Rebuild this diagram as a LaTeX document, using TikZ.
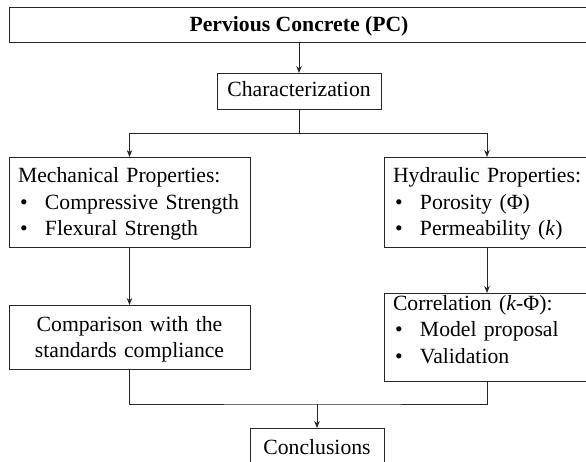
\documentclass[tikz,border=0pt]{standalone}
\usepackage{fontspec}
\setmainfont{Liberation Serif}
\usetikzlibrary{arrows.meta}
\begin{document}
\begin{tikzpicture}[x=1pt,y=-1pt,
  box/.style={draw=black!85, line width=0.9pt, rectangle, inner sep=0pt, outer sep=0pt,
    font=\fontsize{21.7}{26.5}\selectfont},
  lbox/.style={box, align=left, inner xsep=9pt, text width=#1},
  conn/.style={draw=black!85, line width=0.9pt},
  arr/.style={conn, -{Stealth[length=7pt,width=5.5pt]}}]
\useasboundingbox (0,0) rectangle (586,462);
\clip (0,0) rectangle (586,462);
\newcommand{\bul}[1]{\mbox{\makebox[27pt][l]{\hspace{2pt}•}#1}}
\node[box, minimum width=580pt, minimum height=35pt, text height=15pt, text depth=0pt] (pc) at (299,24.5) {\textbf{Pervious Concrete (PC)}};
\node[box, minimum width=164pt, minimum height=36pt, text height=15pt, text depth=3pt] (char) at (299,91) {Characterization};
\node[lbox=223pt, minimum width=241pt, minimum height=90pt, text height=15pt, text depth=53pt] (mech) at (129.5,202)
  {\mbox{Mechanical Properties:}\\ \bul{Compressive Strength}\\ \bul{Flexural Strength}};
\node[lbox=188pt, minimum width=206pt, minimum height=90pt, text height=15pt, text depth=53pt] (hyd) at (487,202)
  {\mbox{Hydraulic Properties:}\\ \bul{Porosity (Φ)}\\ \bul{Permeability (\textit{k})}};
\node[box, align=center, text width=223pt, minimum width=241pt, minimum height=64pt, text height=15pt, text depth=27pt] (comp) at (129.5,337)
  {Comparison with the\\ standards compliance};
\node[lbox=188pt, minimum width=206pt, minimum height=88pt, text height=15pt, text depth=69pt] (corr) at (487,337)
  {\mbox{Correlation (\textit{k}-Φ):}\\ \bul{Model proposal}\\ \bul{Validation}};
\node[box, minimum width=134pt, minimum height=38pt] (concl) at (317,447) {Conclusions};
\coordinate (j1) at (299,133);
\coordinate (j2) at (317,404);
\draw[arr] (pc.south) -- (char.north);
\draw[conn] (char.south) -- (j1);
\draw[arr] (j1) -| (mech.north);
\draw[arr] (j1) -| (hyd.north);
\draw[arr] (mech.south) -- (comp.north);
\draw[arr] (hyd.south) -- (corr.north);
\draw[conn] (comp.south) |- (j2) -| (corr.south);
\draw[arr] (j2) -- (concl.north);
\end{tikzpicture}
\end{document}
